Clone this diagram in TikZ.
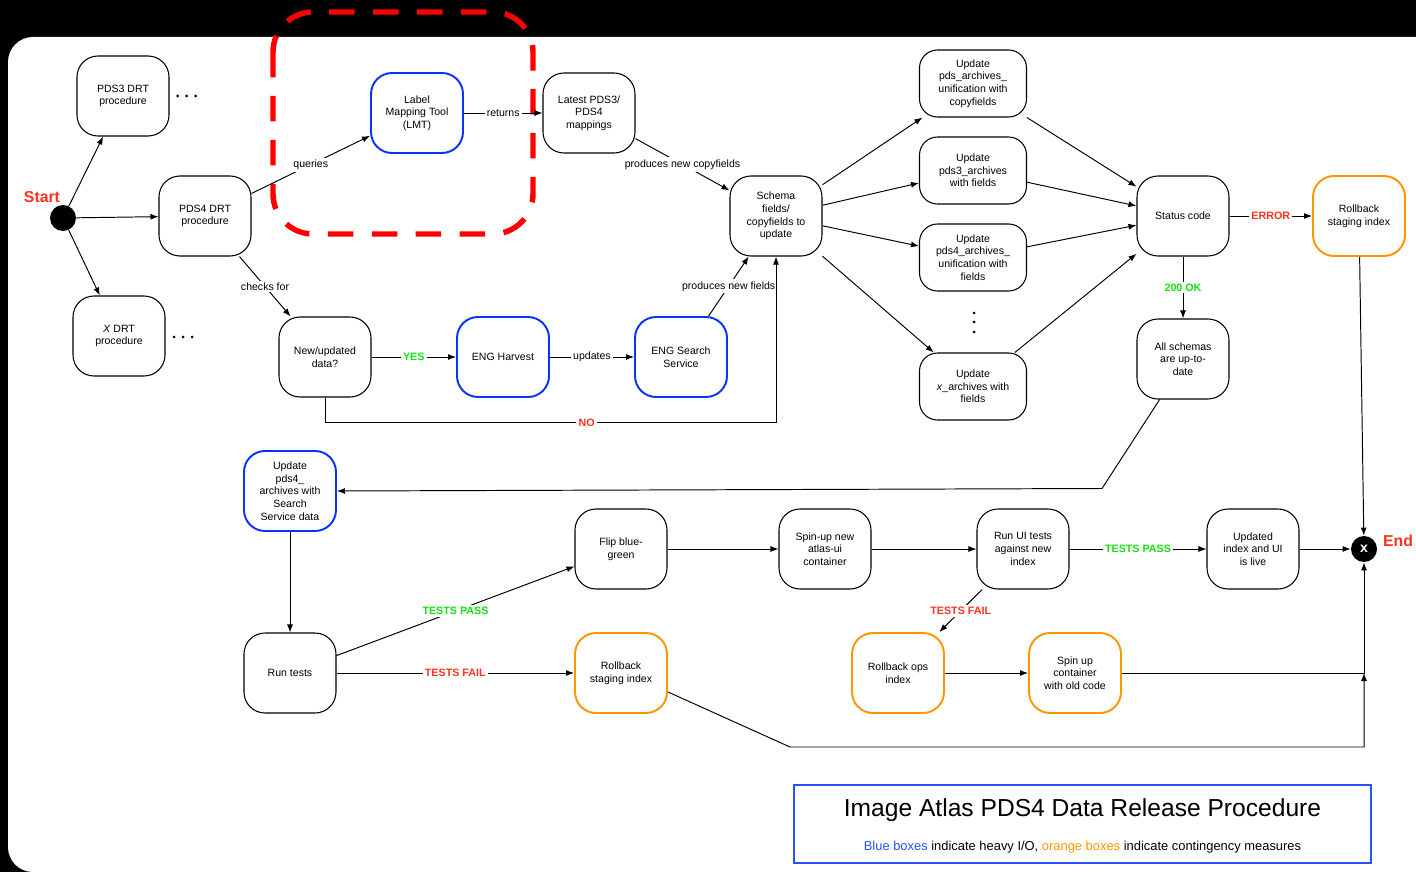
\documentclass[tikz,border=0pt]{standalone}
\usepackage{fontspec}
\setmainfont{Liberation Sans}
\usepackage{tikz}
\usetikzlibrary{arrows.meta,positioning,calc}

\definecolor{ioblue}{RGB}{10,50,255}
\definecolor{planorange}{RGB}{255,150,0}
\definecolor{okgreen}{RGB}{20,225,20}
\definecolor{failred}{RGB}{255,50,30}
\definecolor{lmtred}{RGB}{255,0,0}
\definecolor{legendblue}{RGB}{40,80,255}

\begin{document}
\begin{tikzpicture}[
    font=\fontsize{6}{7.2}\selectfont,
    >={Latex[length=1.6mm,width=1.2mm]},
    box/.style={
        draw,
        fill=white,
        line width=0.6pt,
        rounded corners=0.42cm,
        minimum width=1.84cm,
        minimum height=1.6cm,
        inner sep=1pt,
        align=center
    },
    wide/.style={box, minimum width=2.14cm, minimum height=1.34cm, rounded corners=0.36cm},
    heavy/.style={box, draw=ioblue, line width=1.1pt},
    backup/.style={box, draw=planorange, line width=1.1pt},
    flow/.style={->, line width=0.55pt},
    tag/.style={fill=white, inner sep=1.2pt},
    yes/.style={tag, font=\fontsize{6.1}{7}\selectfont\bfseries, text=okgreen},
    no/.style={tag, font=\fontsize{6.1}{7}\selectfont\bfseries, text=failred},
    terminal/.style={circle, fill=black, minimum size=0.52cm, inner sep=0pt},
    endlabel/.style={font=\fontsize{9}{10}\selectfont\bfseries, text=failred}
]

% Background
\useasboundingbox (0,0) rectangle (28.32,-17.44);
\fill[black] (0,0) rectangle (28.32,-17.44);
\fill[white, rounded corners=0.5cm] (0.16,-0.74) rectangle (29.5,-17.44);

% LMT highlight
\draw[lmtred, line width=3.1pt, dash pattern=on 14.5pt off 10.5pt, rounded corners=0.8cm]
    (5.46,-0.24) rectangle (10.66,-4.68);

% =====================================================
% DRT PROCEDURES
% =====================================================

\node[terminal] (start) at (1.26,-4.36) {};
\node[endlabel] (startlabel) at (0.84,-3.94) {Start};

\node[box] (pdsthree) at (2.46,-1.92) {PDS3 DRT\\procedure};
\node[box] (pdsfour) at (4.10,-4.32) {PDS4 DRT\\procedure};
\node[box] (xdrt) at (2.38,-6.72) {\textit{X} DRT\\procedure};

\foreach \x in {3.55,3.73,3.91}
    \fill (\x,-1.92) circle (0.03);
\foreach \x in {3.48,3.66,3.84}
    \fill (\x,-6.74) circle (0.03);

\draw[flow] (start) -- (pdsthree);
\draw[flow] (start) -- (pdsfour);
\draw[flow] (start) -- (xdrt);

% =====================================================
% MAPPINGS AND HARVEST
% =====================================================

\node[heavy] (lmt) at (8.34,-2.26) {Label\\Mapping Tool\\(LMT)};
\node[box] (mappings) at (11.78,-2.26) {Latest PDS3/\\PDS4\\mappings};
\node[box] (schema) at (15.52,-4.32) {Schema\\fields/\\copyfields to\\update};

\node[box] (newdata) at (6.50,-7.14) {New/updated\\data?};
\node[heavy] (harvest) at (10.06,-7.14) {ENG Harvest};
\node[heavy] (search) at (13.62,-7.14) {ENG Search\\Service};

\draw[flow] (pdsfour) -- node[tag] {queries} (lmt);
\draw[flow] (lmt) -- node[tag] {returns} (mappings);
\draw[flow] (mappings) -- node[tag] {produces new copyfields} (schema);
\draw[flow] (pdsfour) -- node[tag] {checks for} (newdata);
\draw[flow] (newdata) -- node[yes] {YES} (harvest);
\draw[flow] (harvest) -- node[tag] {updates} (search);
\draw[flow] (search) -- node[tag] {produces new fields} (schema);
\draw[flow] (newdata.south) -- ++(0,-0.5) -| node[no, pos=0.29] {NO} (schema.south);

% =====================================================
% SCHEMA UPDATES
% =====================================================

\node[wide] (updunif) at (19.46,-1.67) {Update\\pds\_archives\_\\unification with\\copyfields};
\node[wide] (updthree) at (19.46,-3.41) {Update\\pds3\_archives\\with fields};
\node[wide] (updfour) at (19.46,-5.15) {Update\\pds4\_archives\_\\unification with\\fields};
\node[wide] (updx) at (19.46,-7.73) {Update\\\textit{x}\_archives with\\fields};

\foreach \y in {-6.26,-6.44,-6.64}
    \fill (19.48,\y) circle (0.03);

\node[box] (status) at (23.66,-4.32) {Status code};
\node[backup] (rollstage) at (27.18,-4.32) {Rollback\\staging index};
\node[box] (uptodate) at (23.66,-7.18) {All schemas\\are up-to-\\date};

\foreach \upd in {updunif,updthree,updfour,updx} {
    \draw[flow] (schema) -- (\upd);
    \draw[flow] (\upd) -- (status);
}

\draw[flow] (status) -- node[no] {ERROR} (rollstage);
\draw[flow] (status) -- node[yes] {200 OK} (uptodate);

% =====================================================
% RELEASE
% =====================================================

\node[heavy] (updsearch) at (5.80,-9.82) {Update\\pds4\_\\archives with\\Search\\Service data};
\node[box] (runtests) at (5.80,-13.46) {Run tests};
\node[box] (flip) at (12.42,-10.98) {Flip blue-\\green};
\node[backup] (rollback) at (12.42,-13.46) {Rollback\\staging index};
\node[box] (spinnew) at (16.50,-10.98) {Spin-up new\\atlas-ui\\container};
\node[box] (runui) at (20.46,-10.98) {Run UI tests\\against new\\index};
\node[box] (live) at (25.06,-10.98) {Updated\\index and UI\\is live};
\node[backup] (rollops) at (17.96,-13.46) {Rollback ops\\index};
\node[backup] (spinold) at (21.50,-13.46) {Spin up\\container\\with old code};

\node[terminal] (end) at (27.28,-10.98) {\textcolor{white}{\fontsize{8}{8}\selectfont\bfseries x}};
\node[endlabel] (endlabel) at (27.96,-10.82) {End};
\coordinate (merge) at (end |- spinold);

\draw[flow] (uptodate.240) -- (22.04,-9.77) -- (updsearch.east);
\draw[flow] (rollstage) -- (end);
\draw[flow] (updsearch) -- (runtests);
\draw[flow] (runtests) -- node[yes] {TESTS PASS} (flip);
\draw[flow] (runtests) -- node[no] {TESTS FAIL} (rollback);
\draw[flow] (flip) -- (spinnew);
\draw[flow] (spinnew) -- (runui);
\draw[flow] (runui) -- node[yes] {TESTS PASS} (live);
\draw[flow] (runui) -- node[no] {TESTS FAIL} (rollops);
\draw[flow] (rollops) -- (spinold);
\draw[flow] (live) -- (end);
\draw[flow] (spinold) -- (merge) -- (end);
\draw[flow] (rollback.-22) -- (15.80,-14.94) -| (merge);

% =====================================================
% LEGEND
% =====================================================

\node[draw=legendblue, line width=0.6pt, minimum width=11.54cm, minimum height=1.56cm] (legend) at (21.65,-16.48) {};
\node[font=\fontsize{14}{16}\selectfont] (legendtitle) at (21.65,-16.20) {Image Atlas PDS4 Data Release Procedure};
\node[font=\fontsize{7.35}{8.6}\selectfont] (legendnote) at (21.65,-16.94)
    {\textcolor{legendblue}{Blue boxes} indicate heavy I/O, \textcolor{planorange}{orange boxes} indicate contingency measures};

\end{tikzpicture}
\end{document}
